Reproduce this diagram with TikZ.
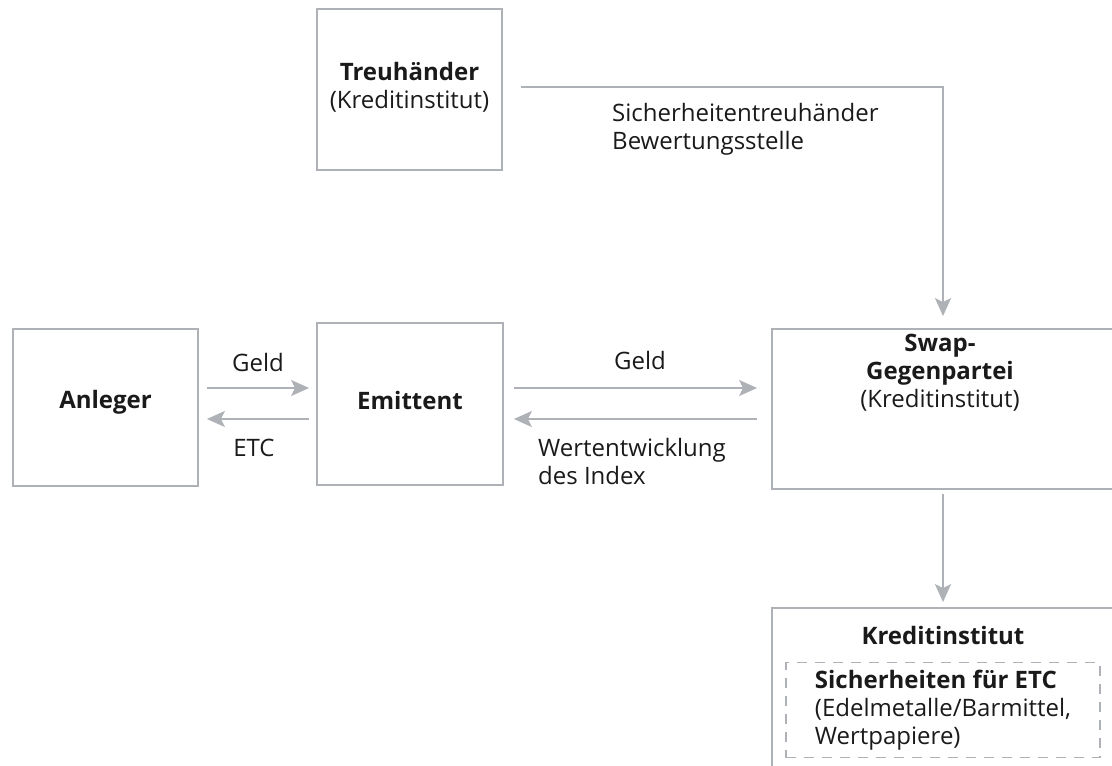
\documentclass[tikz,border=0pt]{standalone}
\usepackage{fontspec}
\setmainfont{Open Sans}
\usetikzlibrary{arrows.meta,calc}
\definecolor{boxgray}{HTML}{AEB2B6}
\definecolor{txt}{HTML}{1A1A1A}
\begin{document}
\begin{tikzpicture}[x=1pt,y=-1pt,
  every node/.style={inner sep=0pt,text=txt,font=\fontsize{24}{28}\selectfont},
  box/.style={draw=boxgray,line width=1.8pt},
  dbox/.style={draw=boxgray,line width=1.5pt,dash pattern=on 10pt off 8pt},
  arr/.style={draw=boxgray,line width=2pt,-{Stealth[length=18pt,width=16pt,inset=4pt]}}]
\useasboundingbox (0,0) rectangle (1112,766);
% boxes
\node[box,minimum width=185pt,minimum height=161pt] (treu) at (409.5,89.5) {};
\node[box,minimum width=185pt,minimum height=157pt] (anl) at (105.5,407.5) {};
\node[box,minimum width=186pt,minimum height=162pt] (emi) at (410,404) {};
\node[box,minimum width=342pt,minimum height=160pt] (swap) at (943,409) {};
\node[box,minimum width=342pt,minimum height=172pt] (kred) at (943,694) {};
\node[dbox,minimum width=314pt,minimum height=95pt,align=left] (sich) at (943,710)
  {\textbf{Sicherheiten für ETC}\\(Edelmetalle/Barmittel,\\Wertpapiere)};
% box texts
\node[align=center] (treu-t) at (409.5,87.5) {\textbf{Treuhänder}\\(Kreditinstitut)};
\node (anl-t) at (105.5,402) {\textbf{Anleger}};
\node (emi-t) at (410,400) {\textbf{Emittent}};
\node[align=center] (swap-t) at (940,373) {\textbf{Swap-}\\\textbf{Gegenpartei}\\(Kreditinstitut)};
\node (kred-t) at (943,635) {\textbf{Kreditinstitut}};
% labels
\node (l1) at (258,362) {Geld};
\node (l2) at (254,448) {ETC};
\node (l3) at (640,360) {Geld};
\node[align=left,anchor=west] (l4) at (538,461) {Wertentwicklung\\des Index};
\node[align=left,anchor=west] (l5) at (612,129.5) {Sicherheitentreuhänder\\Bewertungsstelle};
% connectors
\coordinate (ya) at (0,388);
\coordinate (yb) at (0,419);
\draw[arr,shorten <=8pt,shorten >=7pt] (anl.east |- ya) -- (emi.west |- ya);
\draw[arr,shorten <=7pt,shorten >=8pt] (emi.west |- yb) -- (anl.east |- yb);
\draw[arr,shorten <=10pt,shorten >=14pt] (emi.east |- ya) -- (swap.west |- ya);
\draw[arr,shorten <=14pt,shorten >=10pt] (swap.west |- yb) -- (emi.east |- yb);
\draw[arr,shorten >=12pt] ($(treu.east)+(18,-2.5)$) -| (swap.north);
\draw[arr,shorten <=4pt,shorten >=5pt] (swap.south) -- (kred.north);
\end{tikzpicture}
\end{document}
